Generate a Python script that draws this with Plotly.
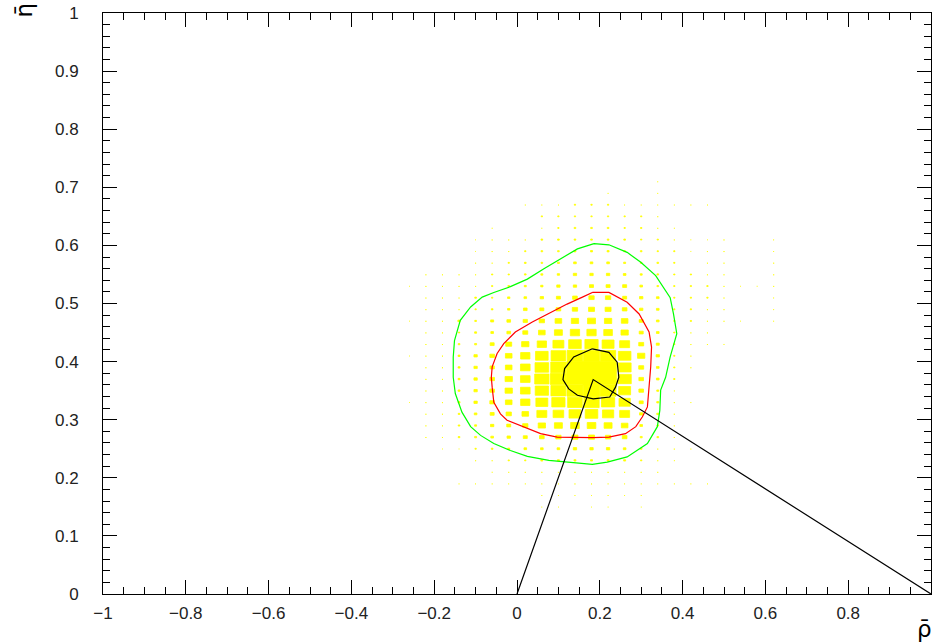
import plotly.graph_objects as go

# ---------------- data ----------------
# bin centres of the 2D histogram (rho: 0.04 wide, eta: 0.02 wide)
rho_centres = [-0.26, -0.22, -0.18, -0.14, -0.10, -0.06, -0.02, 0.02, 0.06, 0.10, 0.14, 0.18,
               0.22, 0.26, 0.30, 0.34, 0.38, 0.42, 0.46, 0.50, 0.54, 0.58, 0.62]
eta_centres = [0.71, 0.69, 0.67, 0.65, 0.63, 0.61, 0.59, 0.57, 0.55, 0.53, 0.51, 0.49, 0.47, 0.45,
               0.43, 0.41, 0.39, 0.37, 0.35, 0.33, 0.31, 0.29, 0.27, 0.25, 0.23, 0.21, 0.19, 0.17, 0.15]
# bin contents (relative, max = 100); one row per eta centre
contents = [
    [0, 0, 0, 0, 0, 0, 0, 0, 0, 0, 0, 0, 0, 0, 0, 5, 0, 0, 0, 0, 0, 0, 0],
    [0, 0, 0, 0, 0, 0, 0, 0, 0, 0, 0, 0, 5, 0, 0, 5, 0, 0, 0, 0, 0, 0, 0],
    [0, 0, 0, 0, 0, 0, 0, 5, 5, 5, 8, 8, 8, 5, 5, 5, 5, 5, 5, 0, 0, 0, 0],
    [0, 0, 0, 0, 0, 0, 0, 0, 8, 8, 8, 8, 8, 8, 8, 6, 0, 0, 0, 0, 0, 0, 0],
    [0, 0, 0, 0, 0, 5, 0, 0, 5, 8, 10, 10, 10, 8, 8, 6, 5, 0, 0, 0, 0, 0, 0],
    [0, 0, 0, 0, 4, 6, 6, 6, 10, 10, 10, 10, 10, 10, 8, 8, 6, 4, 4, 6, 0, 0, 5],
    [0, 0, 0, 0, 4, 6, 6, 8, 10, 10, 12, 12, 12, 10, 10, 8, 8, 4, 6, 6, 0, 0, 5],
    [0, 0, 0, 0, 6, 6, 8, 10, 10, 12, 16, 16, 16, 12, 10, 10, 8, 0, 6, 6, 0, 0, 6],
    [0, 6, 6, 6, 6, 8, 8, 10, 12, 14, 20, 20, 20, 16, 12, 10, 8, 8, 6, 6, 0, 0, 6],
    [4, 6, 6, 6, 6, 8, 10, 12, 14, 20, 20, 24, 24, 24, 16, 10, 8, 8, 8, 6, 4, 4, 6],
    [0, 6, 6, 6, 10, 8, 14, 16, 20, 24, 28, 32, 32, 24, 20, 16, 8, 8, 8, 6, 0, 0, 5],
    [0, 6, 6, 6, 8, 10, 14, 22, 24, 28, 32, 36, 36, 28, 20, 16, 8, 8, 6, 6, 0, 0, 5],
    [4, 6, 6, 14, 10, 18, 22, 26, 32, 40, 44, 48, 44, 40, 24, 16, 8, 8, 6, 6, 4, 0, 5],
    [0, 6, 6, 8, 12, 16, 22, 30, 40, 48, 56, 56, 52, 44, 24, 16, 8, 6, 6, 0, 0, 0, 0],
    [0, 6, 6, 10, 12, 24, 36, 44, 56, 66, 76, 80, 72, 60, 30, 18, 8, 6, 6, 5, 0, 0, 0],
    [4, 6, 6, 12, 20, 28, 40, 56, 76, 88, 94, 96, 92, 76, 44, 20, 8, 6, 0, 0, 0, 0, 0],
    [0, 6, 6, 12, 20, 26, 40, 58, 82, 92, 100, 100, 100, 78, 30, 16, 8, 6, 0, 0, 0, 0, 0],
    [0, 6, 6, 12, 20, 28, 44, 58, 86, 96, 100, 100, 100, 80, 28, 16, 8, 0, 0, 0, 0, 0, 0],
    [0, 6, 6, 12, 20, 28, 44, 58, 80, 90, 96, 100, 96, 72, 28, 12, 5, 0, 0, 0, 0, 0, 0],
    [4, 6, 6, 12, 20, 28, 40, 56, 72, 80, 88, 92, 80, 68, 24, 12, 6, 5, 0, 0, 0, 0, 0],
    [0, 6, 6, 10, 16, 24, 32, 40, 60, 64, 72, 76, 68, 60, 20, 12, 6, 0, 0, 0, 0, 0, 0],
    [0, 6, 6, 10, 12, 20, 24, 32, 44, 48, 52, 52, 48, 40, 16, 10, 6, 0, 0, 0, 0, 0, 0],
    [0, 6, 6, 10, 12, 16, 20, 24, 28, 32, 36, 36, 32, 28, 12, 10, 6, 0, 0, 0, 0, 0, 0],
    [0, 0, 4, 4, 8, 10, 12, 16, 16, 16, 20, 20, 20, 16, 10, 6, 6, 5, 0, 0, 0, 0, 0],
    [0, 0, 0, 0, 6, 6, 8, 8, 12, 12, 12, 12, 12, 12, 8, 6, 5, 0, 0, 0, 0, 0, 0],
    [0, 0, 0, 0, 0, 5, 6, 6, 6, 6, 6, 6, 6, 6, 6, 6, 0, 0, 0, 0, 0, 0, 0],
    [0, 0, 0, 5, 5, 5, 5, 5, 5, 5, 6, 6, 5, 5, 5, 5, 5, 5, 5, 0, 0, 0, 0],
    [0, 0, 0, 0, 0, 0, 0, 0, 5, 5, 5, 5, 5, 5, 5, 0, 0, 0, 0, 0, 0, 0, 0],
    [0, 0, 0, 0, 0, 0, 0, 0, 4, 4, 0, 4, 4, 0, 4, 0, 0, 0, 0, 0, 0, 0, 0],
]
rho_bin_width = 0.04
eta_bin_width = 0.02
content_max = 100

# probability contours (outer green, middle red, inner black)
green_rho = [0.186, 0.222, 0.266, 0.299, 0.335, 0.370, 0.378, 0.386, 0.370, 0.359, 0.347, 0.345,
             0.339, 0.315, 0.266, 0.218, 0.182, 0.137, 0.077, 0.025, -0.016, -0.056, -0.088,
             -0.112, -0.133, -0.149, -0.154, -0.154, -0.151, -0.137, -0.112, -0.084, -0.056,
             -0.016, 0.025, 0.065, 0.105, 0.146, 0.186]
green_eta = [0.603, 0.601, 0.588, 0.571, 0.548, 0.510, 0.482, 0.448, 0.408, 0.373, 0.351, 0.316,
             0.288, 0.259, 0.236, 0.227, 0.223, 0.226, 0.230, 0.237, 0.247, 0.259, 0.273,
             0.288, 0.313, 0.345, 0.373, 0.408, 0.436, 0.471, 0.494, 0.511, 0.519,
             0.529, 0.542, 0.560, 0.577, 0.594, 0.603]
red_rho = [0.182, 0.222, 0.266, 0.295, 0.319, 0.325, 0.323, 0.319, 0.315, 0.303, 0.287, 0.262,
           0.222, 0.182, 0.141, 0.097, 0.057, 0.016, -0.024, -0.040, -0.056, -0.060, -0.062,
           -0.060, -0.048, -0.032, -0.004, 0.037, 0.081, 0.121, 0.158, 0.182]
red_eta = [0.519, 0.519, 0.502, 0.482, 0.451, 0.425, 0.391, 0.356, 0.322, 0.305, 0.288, 0.276,
           0.270, 0.269, 0.269, 0.270, 0.276, 0.288, 0.299, 0.310, 0.330, 0.356, 0.373,
           0.391, 0.414, 0.431, 0.451, 0.468, 0.485, 0.499, 0.511, 0.519]
black_rho = [0.182, 0.222, 0.242, 0.246, 0.238, 0.224, 0.184, 0.146, 0.125, 0.111, 0.115, 0.137, 0.182]
black_eta = [0.422, 0.416, 0.399, 0.373, 0.356, 0.339, 0.336, 0.342, 0.353, 0.369, 0.388, 0.408, 0.422]

# unitarity triangle: (0,0) -> apex -> (1,0)
triangle_rho = [0.0, 0.184, 1.0]
triangle_eta = [0.0, 0.369, 0.0]

# ---------------- figure ----------------
box_x, box_y = [], []
for eta_c, row in zip(eta_centres, contents):
    for rho_c, z in zip(rho_centres, row):
        if z <= 0:
            continue
        f = z / content_max
        hw = 0.5 * rho_bin_width * f
        hh = 0.5 * eta_bin_width * f
        box_x += [rho_c - hw, rho_c + hw, rho_c + hw, rho_c - hw, rho_c - hw, None]
        box_y += [eta_c - hh, eta_c - hh, eta_c + hh, eta_c + hh, eta_c - hh, None]

fig = go.Figure()
fig.add_trace(go.Scatter(x=box_x, y=box_y, mode="lines", fill="toself",
                         fillcolor="#ffff00", line=dict(color="#ffff00", width=0.8),
                         hoverinfo="skip", showlegend=False))
fig.add_trace(go.Scatter(x=green_rho, y=green_eta, mode="lines",
                         line=dict(color="#00ff00", width=1.2), showlegend=False))
fig.add_trace(go.Scatter(x=red_rho, y=red_eta, mode="lines",
                         line=dict(color="#ff0000", width=1.2), showlegend=False))
fig.add_trace(go.Scatter(x=black_rho, y=black_eta, mode="lines",
                         line=dict(color="#000000", width=1.2), showlegend=False))
fig.add_trace(go.Scatter(x=triangle_rho, y=triangle_eta, mode="lines",
                         line=dict(color="#000000", width=1.2), showlegend=False))

tick_font = dict(family="Liberation Sans", size=17, color="#222222")
fig.update_xaxes(range=[-1, 1], tick0=-1, dtick=0.2, ticks="inside", ticklen=14,
                 tickcolor="black", showline=True, linecolor="black", linewidth=1,
                 mirror="ticks", showgrid=False, zeroline=False, tickfont=tick_font,
                 ticklabelstandoff=4, automargin=False,
                 minor=dict(tick0=-1, dtick=0.05, ticks="inside", ticklen=7, tickcolor="black",
                            showgrid=False))
fig.update_yaxes(range=[0, 1], tick0=0, dtick=0.1, ticks="inside", ticklen=14,
                 tickcolor="black", showline=True, linecolor="black", linewidth=1,
                 mirror="ticks", showgrid=False, zeroline=False, tickfont=tick_font,
                 ticklabelstandoff=20, automargin=False,
                 minor=dict(tick0=0, dtick=0.02, ticks="inside", ticklen=7, tickcolor="black",
                            showgrid=False))

fig.add_annotation(text="\u03c1\u0304", xref="paper", yref="paper", x=1.0, y=0,
                   xanchor="right", yanchor="top", yshift=-20, xshift=3, showarrow=False,
                   font=dict(family="DejaVu Sans", size=23, color="black"))
fig.add_annotation(text="\u03b7\u0304", xref="paper", yref="paper", x=0, y=1.0,
                   xanchor="center", yanchor="top", xshift=-80, yshift=12, textangle=-90,
                   showarrow=False, font=dict(family="DejaVu Sans", size=23, color="black"))

fig.update_layout(width=935, height=643, margin=dict(l=103, r=4, t=13, b=49),
                  plot_bgcolor="white", paper_bgcolor="white")

fig.write_html("out.html", config={"displayModeBar": False},
               post_script="document.body.style.margin='0px';document.body.style.padding='0px';")
